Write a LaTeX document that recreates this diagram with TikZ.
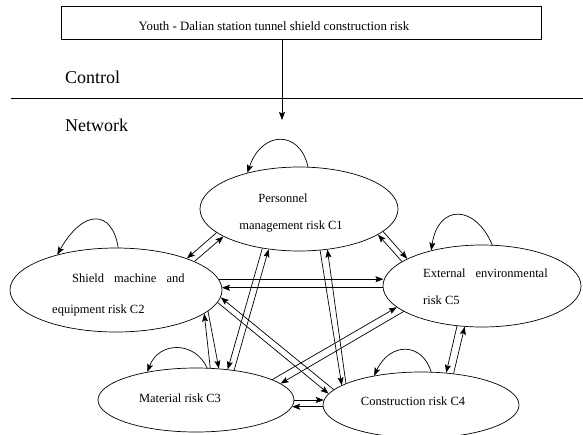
\documentclass[tikz,border=0pt]{standalone}
\usepackage{fontspec}
\setmainfont{Liberation Serif}
\usetikzlibrary{shapes.geometric,arrows.meta,calc}
\begin{document}
\begin{tikzpicture}[x=1pt,y=-1pt,
  risk/.style={draw, ellipse, inner sep=0pt, line width=0.7pt},
  lbl/.style={inner sep=0pt, font=\fontsize{12.5}{14}\selectfont},
  big/.style={inner sep=0pt, font=\fontsize{18}{20}\selectfont},
  link/.style={line width=0.7pt, -{Stealth[length=8pt,width=6pt,inset=1.5pt]}},
  selfloop/.style={line width=0.7pt, -{Stealth[length=8pt,width=6pt,inset=1.5pt]}},
]
\useasboundingbox (0,0) rectangle (583,434);

% top box
\node[draw, rectangle, line width=0.8pt, minimum width=480pt, minimum height=33pt, inner sep=0pt] (box) at (301,22.5) {};
\node[lbl, anchor=base, font=\fontsize{12.8}{14}\selectfont] (boxtxt) at (274,30.5) {Youth - Dalian station tunnel shield construction risk};

\node[big, anchor=base west] (ctl) at (65,83) {Control};
\node[big, anchor=base west] (net) at (65,131) {Network};

\coordinate (sepL) at (11,98);
\coordinate (sepR) at (583,98);
\draw[line width=0.7pt] (sepL) -- (sepR);

\coordinate (arrowend) at (282,120);
\draw[link] (box.south -| arrowend) -- (arrowend);

% ellipses
\node[risk, minimum width=198pt, minimum height=84pt] (c1) at (299,209) {};
\node[risk, minimum width=212pt, minimum height=84pt] (c2) at (116,290) {};
\node[risk, minimum width=196pt, minimum height=64pt] (c3) at (196,400) {};
\node[risk, minimum width=196pt, minimum height=66pt] (c4) at (421,405) {};
\node[risk, minimum width=198pt, minimum height=82pt] (c5) at (482,286) {};

% labels
\node[lbl, anchor=base] (c1a) at (283,202) {Personnel};
\node[lbl, anchor=base] (c1b) at (291,229) {management risk C1};
\node[lbl, anchor=base west] (c2a) at (72,282) {Shield\hspace{10pt}machine\hspace{10pt}and};
\node[lbl, anchor=base west] (c2b) at (52,313) {equipment risk C2};
\node[lbl, anchor=base west] (c5a) at (423,277) {External\hspace{10pt}environmental};
\node[lbl, anchor=base west] (c5b) at (423,304) {risk C5};
\node[lbl, anchor=base] (c3a) at (180,402) {Material risk C3};
\node[lbl, anchor=base] (c4a) at (413,405) {Construction risk C4};

% self loops
\draw[selfloop] (c1.78) .. controls (300,130) and (262,130) .. (c1.145);
\draw[selfloop] (c2.87) .. controls (112,209) and (83,209) .. (c2.149);
\draw[selfloop] (c5.76) .. controls (475,204) and (438,204) .. (c5.145);
\draw[selfloop] (c3.71) .. controls (195,341) and (159,341) .. (c3.150);
\draw[selfloop] (c4.73) .. controls (422,342) and (390,342) .. (c4.148);

% C1 - C2
\draw[link] (c1.196) -- (c2.24);
\draw[link] (c2.20) -- (c1.200);
% C1 - C5
\draw[link] (c5.163) -- (c1.342);
\draw[link] (c1.345) -- (c5.160);
% C2 - C5
\draw[link] (c2.6) -- (c5.177 |- c2.6);
\draw[link] (c5.181) -- (c2.2 |- c5.181);
% C1 - C3
\draw[link] (c1.227) -- (c3.44);
\draw[link] (c3.38) -- (c1.233);
% C2 - C3
\draw[link] (c3.66) -- (c2.345);
\draw[link] (c2.347) -- (c3.54);
% C2 - C4
\draw[link] (c4.170) -- (c2.356);
\draw[link] (c2.353) -- (c4.173);
% C3 - C5
\draw[link] (c3.15) -- (c5.194);
\draw[link] (c5.198) -- (c3.11);
% C1 - C4
\draw[link] (c1.297) -- (c4.166);
\draw[link] (c4.164) -- (c1.305);
% C5 - C4
\draw[link] (c5.238) -- (c4.52);
\draw[link] (c4.44) -- (c5.247);
% C3 - C4
\draw[link] (c3.0) -- (c4.177 |- c3.0);
\draw[link] (c4.181) -- (c3.356 |- c4.181);
\end{tikzpicture}
\end{document}
